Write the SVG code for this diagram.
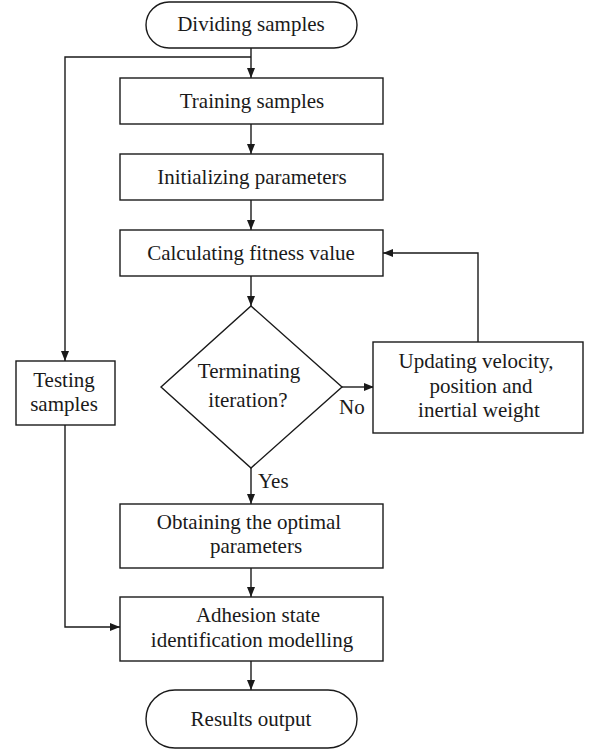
<svg xmlns="http://www.w3.org/2000/svg" width="591" height="750" viewBox="0 0 591 750">
<style>
.box{fill:#fff;stroke:#1a1a1a;stroke-width:1.4}
.ln{fill:none;stroke:#1a1a1a;stroke-width:1.4}
text{font-family:'Liberation Serif','Times New Roman',Times,'DejaVu Serif',serif;font-size:21px;fill:#1a1a1a;text-anchor:middle}
.lbl{text-anchor:start}
</style>
<defs>
<marker id="ah" viewBox="0 0 10 8" refX="10" refY="4" markerWidth="10" markerHeight="8" markerUnits="userSpaceOnUse" orient="auto">
<path d="M0,0 L10,4 L0,8 Z" fill="#1a1a1a"/>
</marker>
</defs>
<rect width="591" height="750" fill="#fff"/>
<g id="connectors">
<line class="ln" x1="251" y1="48" x2="251" y2="78" marker-end="url(#ah)"/>
<polyline class="ln" points="251,57 65,57 65,361" marker-end="url(#ah)"/>
<line class="ln" x1="251" y1="124" x2="251" y2="154" marker-end="url(#ah)"/>
<line class="ln" x1="251" y1="200" x2="251" y2="230" marker-end="url(#ah)"/>
<line class="ln" x1="251" y1="276" x2="251" y2="306" marker-end="url(#ah)"/>
<line class="ln" x1="342" y1="387" x2="374" y2="387" marker-end="url(#ah)"/>
<polyline class="ln" points="478,342 478,253 383,253" marker-end="url(#ah)"/>
<line class="ln" x1="251" y1="468" x2="251" y2="504" marker-end="url(#ah)"/>
<line class="ln" x1="251" y1="568" x2="251" y2="597" marker-end="url(#ah)"/>
<polyline class="ln" points="65,425 65,627 120,627" marker-end="url(#ah)"/>
<line class="ln" x1="251" y1="661" x2="251" y2="690" marker-end="url(#ah)"/>
<text class="lbl" x="258" y="488" font-family="Liberation Serif, serif">Yes</text>
<text class="lbl" x="339" y="414" font-family="Liberation Serif, serif">No</text>
</g>
<g id="dividing" font-family="Liberation Serif, serif">
<rect class="box" x="146" y="2" width="211" height="46" rx="23" ry="23"/>
<text x="251" y="31">Dividing samples</text>
</g>
<g id="training">
<rect class="box" x="120" y="78" width="263" height="46"/>
<text x="252" y="108">Training samples</text>
</g>
<g id="initializing">
<rect class="box" x="120" y="154" width="263" height="46"/>
<text x="252" y="184">Initializing parameters</text>
</g>
<g id="calculating">
<rect class="box" x="120" y="230" width="263" height="46"/>
<text x="251" y="260">Calculating fitness value</text>
</g>
<g id="terminating">
<polygon class="box" points="251,306 342,387 251,468 161,387"/>
<text x="249" y="378">Terminating</text>
<text x="248" y="407">iteration?</text>
</g>
<g id="updating">
<rect class="box" x="373" y="342" width="210" height="91"/>
<text x="476" y="368">Updating velocity,</text>
<text x="481" y="393">position and</text>
<text x="479" y="417">inertial weight</text>
</g>
<g id="testing">
<rect class="box" x="16" y="361" width="99" height="64"/>
<text x="64" y="387">Testing</text>
<text x="64" y="411">samples</text>
</g>
<g id="obtaining">
<rect class="box" x="120" y="504" width="263" height="64"/>
<text x="249" y="529">Obtaining the optimal</text>
<text x="256" y="553">parameters</text>
</g>
<g id="adhesion">
<rect class="box" x="120" y="597" width="263" height="64"/>
<text x="258" y="622">Adhesion state</text>
<text x="252" y="647">identification modelling</text>
</g>
<g id="results">
<rect class="box" x="146" y="690" width="211" height="58" rx="29" ry="29"/>
<text x="251" y="726">Results output</text>
</g>
</svg>
